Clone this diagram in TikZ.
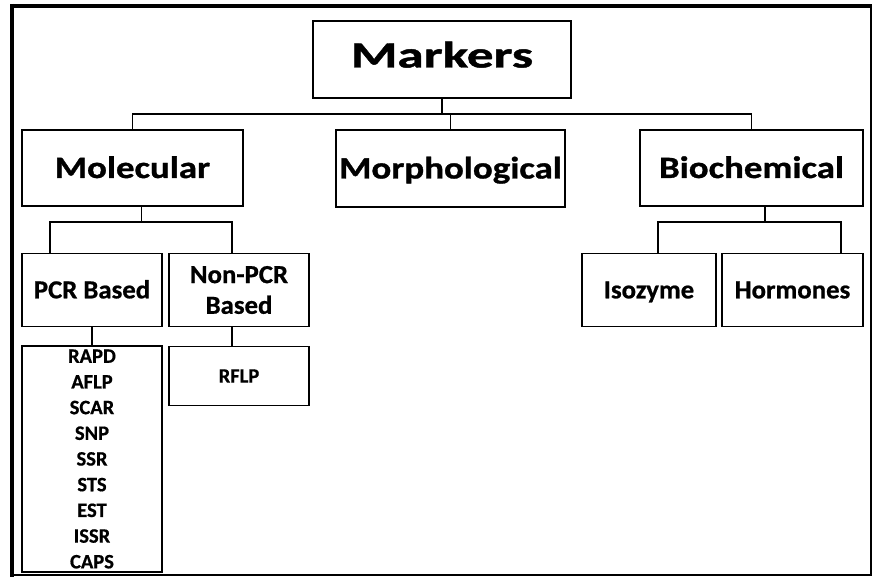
\documentclass[tikz,border=0pt]{standalone}
\usepackage{fontspec}
\setmainfont{Carlito}
\newfontfamily\markfont[FakeStretch=1.44, FakeBold=1.2]{Carlito Bold}
\newfontfamily\kindfont[FakeStretch=1.19, FakeBold=1]{Carlito Bold}
\newfontfamily\typefont[FakeStretch=1.03, FakeBold=0.8]{Carlito Bold}
\newfontfamily\itemfont[FakeBold=0.6]{Carlito Bold}

\tikzset{
  box/.style={draw, line width=1.6pt, inner sep=0pt, align=center},
  link/.style={line width=1.6pt},
  toplevel/.style={box, font=\markfont\fontsize{37}{40}\selectfont, text height=24pt, text depth=8pt},
  kind/.style={box, font=\kindfont\fontsize{31}{34}\selectfont, text height=20pt, text depth=0pt},
  type/.style={box, font=\typefont\fontsize{26}{30.7}\selectfont},
  item/.style={box, font=\itemfont\fontsize{20.5}{25.7}\selectfont}
}

\begin{document}
\begin{tikzpicture}[x=1pt, y=-1pt]
\useasboundingbox (0,0) rectangle (873,577);
% frame
\draw[line width=4pt] (12,4) -- (12,577);
\draw[line width=4pt] (10,6) -- (872,6);
\draw[line width=2pt] (871,6) -- (871,576);
\draw[line width=2pt] (12,575) -- (872,575);

\node[toplevel, minimum width=258pt, minimum height=77pt] (mark) at (442,59.5) {Markers};

\node[kind, minimum width=221pt, minimum height=76pt] (mol) at (132.5,168) {Molecular};
\node[kind, minimum width=229pt, minimum height=77pt] (morph) at (450.5,168.5) {Morphological};
\node[kind, minimum width=223pt, minimum height=76pt] (bio) at (751.5,168) {Biochemical};

\node[type, minimum width=140pt, minimum height=73pt, text height=16.7pt, text depth=0pt] (pcr) at (92,290) {PCR Based};
\node[type, minimum width=140pt, minimum height=73pt] (npcr) at (239,290) {Non-PCR\\Based};
\node[type, minimum width=134pt, minimum height=73pt, text height=16.7pt, text depth=0pt] (iso) at (649,290) {Isozyme};
\node[type, minimum width=141pt, minimum height=73pt, text height=16.7pt, text depth=0pt] (horm) at (792.5,290) {Hormones};

\node[item, minimum width=140pt, minimum height=226pt] (pcrlist) at (92,459) {RAPD\\AFLP\\SCAR\\SNP\\SSR\\STS\\EST\\ISSR\\CAPS};
\node[item, minimum width=140pt, minimum height=59pt, text height=13.3pt, text depth=0pt] (rflp) at (239,376) {RFLP};

\draw[link] (mark.south) -- ++(0,15) -| (mol.north);
\draw[link] (mark.south) -- ++(0,15) -| (bio.north);
\draw[link] (mark.south) ++(0,15) -| (morph.north);

\draw[link] ([xshift=9pt]mol.south) -- ++(0,15) -| ([xshift=-42pt]pcr.north);
\draw[link] ([xshift=9pt]mol.south) -- ++(0,15) -| ([xshift=-7pt]npcr.north);
\draw[link] ([xshift=13.5pt]bio.south) -- ++(0,15) -| ([xshift=9pt]iso.north);
\draw[link] ([xshift=13.5pt]bio.south) -- ++(0,15) -| ([xshift=48.5pt]horm.north);

\draw[link] (pcr) -- (pcrlist);
\draw[link] ([xshift=-7pt]npcr.south) -- ([xshift=-7pt]rflp.north);

\end{tikzpicture}
\end{document}
